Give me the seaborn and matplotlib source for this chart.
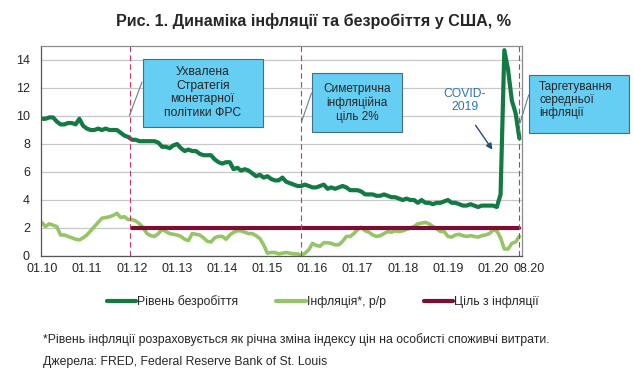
import numpy as np
import pandas as pd
import matplotlib
matplotlib.use('Agg')
import matplotlib.pyplot as plt
from matplotlib.patches import Rectangle
from matplotlib.lines import Line2D
import seaborn as sns

# monthly data 01.2010 - 08.2020
unemployment = [
    9.8, 9.8, 9.9, 9.9, 9.6, 9.4, 9.4, 9.5, 9.5, 9.4, 9.8, 9.3,
    9.1, 9.0, 9.0, 9.1, 9.0, 9.1, 9.0, 9.0, 9.0, 8.8, 8.6, 8.5,
    8.3, 8.3, 8.2, 8.2, 8.2, 8.2, 8.2, 8.1, 7.8, 7.8, 7.7, 7.9,
    8.0, 7.7, 7.5, 7.6, 7.5, 7.5, 7.3, 7.2, 7.2, 7.2, 6.9, 6.7,
    6.6, 6.7, 6.7, 6.2, 6.3, 6.1, 6.2, 6.1, 5.9, 5.7, 5.8, 5.6,
    5.7, 5.5, 5.4, 5.4, 5.6, 5.3, 5.2, 5.1, 5.0, 5.0, 5.1, 5.0,
    4.9, 4.9, 5.0, 5.1, 4.8, 4.9, 4.8, 4.9, 5.0, 4.9, 4.7, 4.7,
    4.7, 4.6, 4.4, 4.4, 4.4, 4.3, 4.3, 4.4, 4.3, 4.2, 4.2, 4.1,
    4.0, 4.1, 4.0, 4.0, 3.8, 4.0, 3.8, 3.8, 3.7, 3.8, 3.8, 3.9,
    4.0, 3.8, 3.8, 3.7, 3.6, 3.6, 3.7, 3.6, 3.5, 3.6, 3.6, 3.6,
    3.6, 3.5, 4.4, 14.7, 13.3, 11.1, 10.2, 8.4,
]
inflation = [
    2.4, 2.1, 2.3, 2.2, 2.1, 1.5, 1.5, 1.4, 1.3, 1.2, 1.15, 1.3,
    1.5, 1.8, 2.1, 2.4, 2.7, 2.75, 2.8, 2.9, 3.05, 2.75, 2.8, 2.6,
    2.6, 2.5, 2.3, 2.0, 1.6, 1.45, 1.4, 1.6, 1.9, 1.75, 1.6, 1.55,
    1.5, 1.4, 1.2, 1.1, 1.6, 1.55, 1.5, 1.3, 1.05, 1.0, 1.3, 1.4,
    1.4, 1.2, 1.5, 1.7, 1.8, 1.8, 1.7, 1.6, 1.6, 1.45, 1.25, 0.8,
    0.2, 0.25, 0.25, 0.15, 0.2, 0.25, 0.2, 0.15, 0.15, 0.05, 0.2, 0.45,
    0.9, 0.75, 0.7, 0.95, 0.95, 0.9, 0.8, 0.8, 1.05, 1.4, 1.4, 1.6,
    1.9, 2.05, 1.8, 1.7, 1.5, 1.4, 1.45, 1.6, 1.75, 1.7, 1.8, 1.75,
    1.8, 1.9, 2.0, 2.1, 2.3, 2.35, 2.4, 2.3, 2.1, 1.95, 1.75, 1.75,
    1.4, 1.35, 1.5, 1.55, 1.45, 1.4, 1.45, 1.4, 1.35, 1.45, 1.5, 1.6,
    1.85, 1.8, 1.3, 0.5, 0.5, 0.9, 1.0, 1.4,
]
target_value = 2.0
target_start = 24  # 01.12
tick_labels = ['01.10', '01.11', '01.12', '01.13', '01.14', '01.15',
               '01.16', '01.17', '01.18', '01.19', '01.20']
last_label = '08.20'
event_months = [23.5, 69, 127]

months = np.arange(len(unemployment))
df = pd.DataFrame({'month': months, 'unemp': unemployment, 'infl': inflation})
target_df = pd.DataFrame({'month': months[target_start:],
                          'target': target_value})

c_unemp = '#137A43'
c_infl = '#96C568'
c_target = '#7A0E33'

sns.set_style('white')
plt.rcParams['font.family'] = ['Liberation Sans', 'DejaVu Sans']

fig = plt.figure(figsize=(6.34, 3.85), dpi=100)
ax = fig.add_axes([41 / 634, 1 - 256 / 385, 481 / 634, 210 / 385])

sns.lineplot(data=df, x='month', y='unemp', ax=ax, color=c_unemp, linewidth=3)
sns.lineplot(data=df, x='month', y='infl', ax=ax, color=c_infl, linewidth=2.6)
sns.lineplot(data=target_df, x='month', y='target', ax=ax, color=c_target, linewidth=3)

for m in event_months:
    ax.axvline(m, color='#C8385E', linestyle=(0, (5, 3)), linewidth=0.8)

ax.set_xlim(-0.2, 127.7)
ax.set_ylim(0, 15)
ax.set_yticks(range(0, 15, 2))
ax.set_xticks(range(0, 121, 12))
ax.set_xticklabels(tick_labels)
ax.annotate(last_label, xy=(len(unemployment) + 1.5, 0), xycoords=('data', 'axes fraction'),
            xytext=(0, -5), textcoords='offset points', ha='center', va='top',
            fontsize=9, annotation_clip=False)
ax.tick_params(axis='both', length=0, labelsize=9)
ax.tick_params(axis='x', pad=5)
ax.tick_params(axis='y', pad=8)
ax.set_xlabel('')
ax.set_ylabel('')
ax.grid(axis='y', color='#C8C8C8', linewidth=0.9)
ax.set_axisbelow(True)
for s in ax.spines.values():
    s.set_color('#8C8C8C')
    s.set_linewidth(0.9)
ax.spines['left'].set_color('#555555')
ax.spines['bottom'].set_color('#555555')


def fx(x):
    return x / 634


def fy(y):
    return 1 - y / 385


box_fc = '#66CDF3'
box_ec = '#3F6F8A'
boxes = [(142.7, 59, 120, 68), (311.7, 73.3, 90.6, 59), (529.3, 75, 100, 58.3)]
for bx, by, bw, bh in boxes:
    fig.patches.append(Rectangle((fx(bx), fy(by + bh)), bw / 634, bh / 385,
                                 transform=fig.transFigure, facecolor=box_fc,
                                 edgecolor=box_ec, linewidth=0.8, zorder=5))

leaders = [((142, 82), (129.3, 116)), ((311.5, 93), (301.5, 122)), ((528.7, 95), (520, 123))]
for (x1, y1), (x2, y2) in leaders:
    fig.lines.append(Line2D([fx(x1), fx(x2)], [fy(y1), fy(y2)], transform=fig.transFigure,
                            color='#6A7F8E', linewidth=0.8, zorder=5))

fig.text(fx(202.7), fy(92.5), 'Ухвалена\nСтратегія\nмонетарної\nполітики ФРС',
         ha='center', va='center', fontsize=8.7, linespacing=1.2, zorder=6)
fig.text(fx(357), fy(102.7), 'Симетрична\nінфляційна\nціль 2%',
         ha='center', va='center', fontsize=8.5, linespacing=1.2, zorder=6)
fig.text(fx(539), fy(100), 'Таргетування\nсередньої\nінфляції',
         ha='left', va='center', fontsize=8.5, linespacing=1.1, zorder=6)

fig.text(fx(465), fy(100.5), 'COVID-\n2019', ha='center', va='center',
         fontsize=8.7, color='#2E75B6', linespacing=1.2)
ax.annotate('', xy=(fx(494), fy(152)), xycoords='figure fraction',
            xytext=(fx(474), fy(123)), textcoords='figure fraction',
            arrowprops=dict(arrowstyle='-|>', color='#1F4E79', lw=1.0,
                            mutation_scale=9))

fig.text(fx(313), fy(21), 'Рис. 1. Динаміка інфляції та безробіття у США, %',
         ha='center', va='center', fontsize=11.6, fontweight='bold')

handles = [Line2D([], [], color=c_unemp, linewidth=3),
           Line2D([], [], color=c_infl, linewidth=3),
           Line2D([], [], color=c_target, linewidth=3)]
fig.legend(handles, ['Рівень безробіття', 'Інфляція*, р/р', 'Ціль з інфляції'],
           loc='center', bbox_to_anchor=(fx(323), fy(302)), ncol=3, frameon=False,
           fontsize=8.8, handlelength=2.4, handletextpad=0.1, columnspacing=3.1)

fig.text(fx(43), fy(340), '*Рівень інфляції розраховується як річна зміна індексу цін на особисті споживчі витрати.',
         ha='left', va='center', fontsize=8.8)
fig.text(fx(43), fy(362), 'Джерела: FRED, Federal Reserve Bank of St. Louis',
         ha='left', va='center', fontsize=8.8)

fig.savefig('out.png', dpi=100)
